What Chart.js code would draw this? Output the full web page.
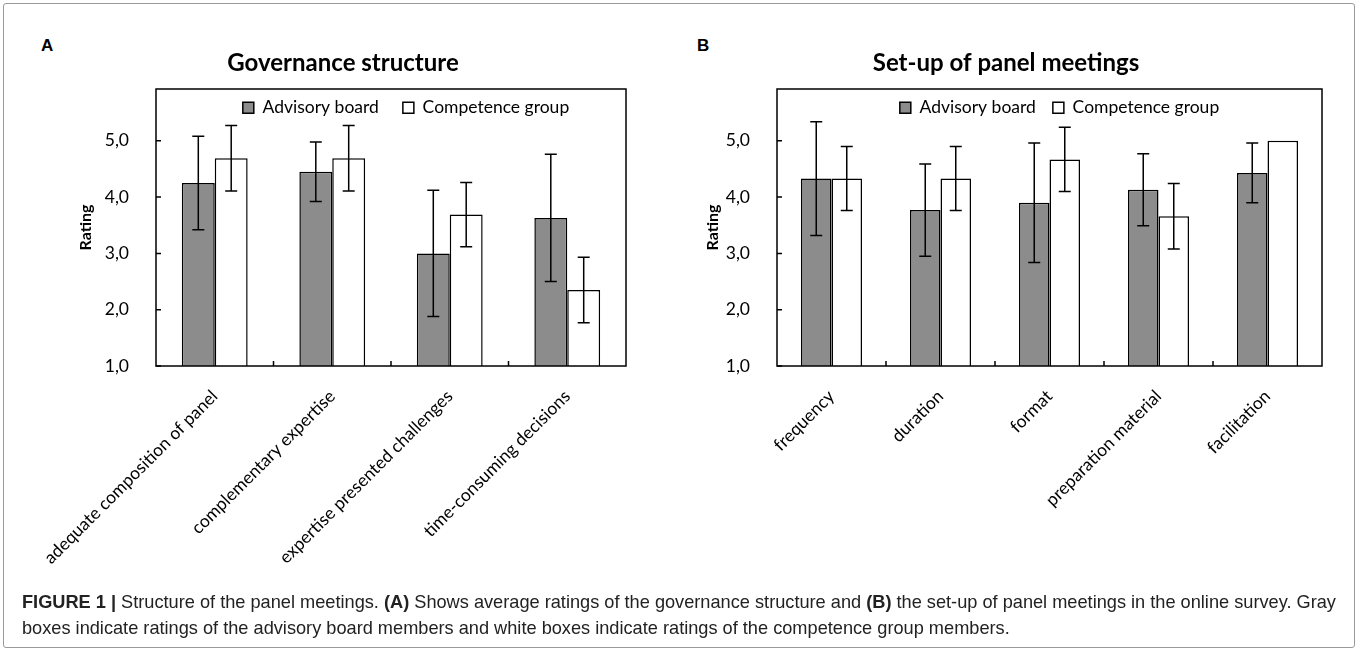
<!DOCTYPE html>
<html>
<head>
<meta charset="utf-8">
<script src="https://cdn.jsdelivr.net/npm/chart.js@4.4.1/dist/chart.umd.min.js"></script>
<style>
  body { margin: 0; background: #fff; }
  #fig { position: relative; width: 1358px; height: 652px; overflow: hidden; }
  #frame { position: absolute; left: 3px; top: 3px; width: 1350px; height: 643px; border: 1px solid #9a9a9a; border-radius: 3px; }
  .panel { position: absolute; top: 0; }
  .letter { position: absolute; font-family: "Liberation Sans", Arial, sans-serif; font-weight: bold; font-size: 17px; color: #000; }
  #caption { position: absolute; left: 22px; top: 589px; font-family: "Liberation Sans", Arial, sans-serif; font-size: 18.2px; line-height: 26px; color: #222; white-space: nowrap; }
</style>
</head>
<body>
<div id="fig">
  <div id="frame"></div>
  <div class="letter" style="left:41px;top:36px;">A</div>
  <div class="letter" style="left:697px;top:36px;">B</div>
  <canvas id="chartA" class="panel" style="left:0px;" width="680" height="590"></canvas>
  <canvas id="chartB" class="panel" style="left:680px;" width="678" height="590"></canvas>
  <div id="caption"><b>FIGURE 1 |</b> Structure of the panel meetings. <b>(A)</b> Shows average ratings of the governance structure and <b>(B)</b> the set-up of panel meetings in the online survey. Gray<br>boxes indicate ratings of the advisory board members and white boxes indicate ratings of the competence group members.</div>
</div>
<script>
// Panel A - governance structure
var catsA = ['adequate composition of panel', 'complementary expertise', 'expertise presented challenges', 'time-consuming decisions'];
var advA = [4.25, 4.45, 3.00, 3.63];
var advErrA = [0.83, 0.53, 1.12, 1.13];
var compA = [4.69, 4.69, 3.69, 2.35];
var compErrA = [0.58, 0.58, 0.57, 0.58];

// Panel B - set-up of panel meetings
var catsB = ['frequency', 'duration', 'format', 'preparation material', 'facilitation'];
var advB = [4.33, 3.77, 3.90, 4.13, 4.43];
var advErrB = [1.01, 0.82, 1.06, 0.64, 0.53];
var compB = [4.33, 4.33, 4.67, 3.66, 5.00];
var compErrB = [0.57, 0.57, 0.57, 0.58, 0];

var yTicks = [1, 2, 3, 4, 5];
var seriesNames = ['Advisory board', 'Competence group'];

var FONT = 'Lato';

// legend sits inside the plot box, in one row
var legendRow = {
    id: 'legendRow',
    afterInit: function(chart) {
        chart.legend.isHorizontal = function() { return true; };
    },
    afterLayout: function(chart, args, opts) {
        var lg = chart.legend, a = chart.chartArea;
        var pad = lg.options.labels.padding;
        var h = lg.height;
        lg.left = a.left + (opts.shift || 0);
        lg.right = a.right + (opts.shift || 0);
        lg.top = a.top + 10 - pad;
        lg.bottom = lg.top + h;
    }
};

// error bars drawn from the bar elements and the y scale
var errorBars = {
    id: 'errorBars',
    afterDatasetsDraw: function(chart) {
        var ctx = chart.ctx;
        var y = chart.scales.y;
        ctx.save();
        ctx.strokeStyle = '#000';
        ctx.lineWidth = 1.5;
        chart.data.datasets.forEach(function(ds, di) {
            var meta = chart.getDatasetMeta(di);
            meta.data.forEach(function(bar, i) {
                var e = ds.errors[i];
                if (!e) return;
                var top = y.getPixelForValue(ds.data[i] + e);
                var bot = y.getPixelForValue(ds.data[i] - e);
                ctx.beginPath();
                ctx.moveTo(bar.x, top); ctx.lineTo(bar.x, bot);
                ctx.moveTo(bar.x - 6, top); ctx.lineTo(bar.x + 6, top);
                ctx.moveTo(bar.x - 6, bot); ctx.lineTo(bar.x + 6, bot);
                ctx.stroke();
            });
        });
        ctx.restore();
    }
};

// plot frame and inward tick marks
var frame = {
    id: 'frame',
    afterDraw: function(chart) {
        var ctx = chart.ctx;
        var a = chart.chartArea;
        var x = chart.scales.x, y = chart.scales.y;
        ctx.save();
        ctx.strokeStyle = '#000';
        ctx.lineWidth = 1.5;
        ctx.strokeRect(a.left, a.top, a.right - a.left, a.bottom - a.top);
        ctx.beginPath();
        yTicks.forEach(function(v) {
            var py = y.getPixelForValue(v);
            ctx.moveTo(a.left, py); ctx.lineTo(a.left + 5, py);
        });
        for (var i = 1; i < chart.data.labels.length; i++) {
            var px = (x.getPixelForValue(i - 1) + x.getPixelForValue(i)) / 2;
            ctx.moveTo(px, a.bottom); ctx.lineTo(px, a.bottom - 5);
        }
        ctx.stroke();
        ctx.restore();
    }
};

function makeChart(id, title, cats, adv, advErr, comp, compErr, pad, yWidth, titlePad, legendGap, legendShift) {
    var ctx = document.getElementById(id).getContext('2d');
    return new Chart(ctx, {
        type: 'bar',
        data: {
            labels: cats,
            datasets: [{
                label: seriesNames[0],
                data: adv,
                errors: advErr,
                backgroundColor: '#8c8c8c',
                borderColor: '#000',
                borderWidth: 1.5,
                borderSkipped: false
            }, {
                label: seriesNames[1],
                data: comp,
                errors: compErr,
                backgroundColor: '#fff',
                borderColor: '#000',
                borderWidth: 1.5,
                borderSkipped: false
            }]
        },
        options: {
            responsive: false,
            animation: false,
            layout: { padding: pad },
            datasets: { bar: { categoryPercentage: 0.56, barPercentage: 1.0 } },
            plugins: {
                title: {
                    display: true,
                    text: title,
                    color: '#000',
                    font: { family: FONT, size: 24, weight: 'bold', lineHeight: 1.2 },
                    padding: { top: 49, bottom: 11.2 }
                },
                legend: {
                    position: 'chartArea',
                    align: 'center',
                    labels: {
                        color: '#000',
                        font: { family: FONT, size: 17.5 },
                        boxWidth: 11,
                        boxHeight: 11,
                        padding: legendGap
                    }
                },
                legendRow: { shift: legendShift },
                tooltip: { enabled: false }
            },
            scales: {
                x: {
                    grid: { display: false },
                    border: { display: false },
                    ticks: {
                        color: '#000',
                        font: { family: FONT, size: 17.5 },
                        minRotation: 45,
                        maxRotation: 45,
                        autoSkip: false,
                        padding: 12
                    },
                    afterFit: function(scale) { scale.height = 590 - 366; }
                },
                y: {
                    min: 1,
                    max: 5.92,
                    grid: { display: false },
                    border: { display: false },
                    afterBuildTicks: function(scale) {
                        scale.ticks = yTicks.map(function(v) { return { value: v }; });
                    },
                    afterFit: function(scale) { scale.width = yWidth; },
                    ticks: {
                        color: '#000',
                        font: { family: FONT, size: 17.5 },
                        padding: 19,
                        callback: function(v) { return v.toFixed(1).replace('.', ','); }
                    },
                    title: {
                        display: true,
                        text: 'Rating',
                        color: '#000',
                        font: { family: FONT, size: 16, weight: 'bold', lineHeight: 1.2 },
                        padding: { top: titlePad, bottom: 0 }
                    }
                }
            }
        },
        plugins: [legendRow, errorBars, frame]
    });
}

makeChart('chartA', 'Governance structure', catsA, advA, advErrA, compA, compErrA,
    { left: 60, right: 54, top: 0, bottom: 0 }, 96, 16, 24, 15);
makeChart('chartB', 'Set-up of panel meetings', catsB, advB, advErrB, compB, compErrB,
    { left: 10, right: 36, top: 0, bottom: 0 }, 87, 13, 17, 10);
</script>
</body>
</html>
